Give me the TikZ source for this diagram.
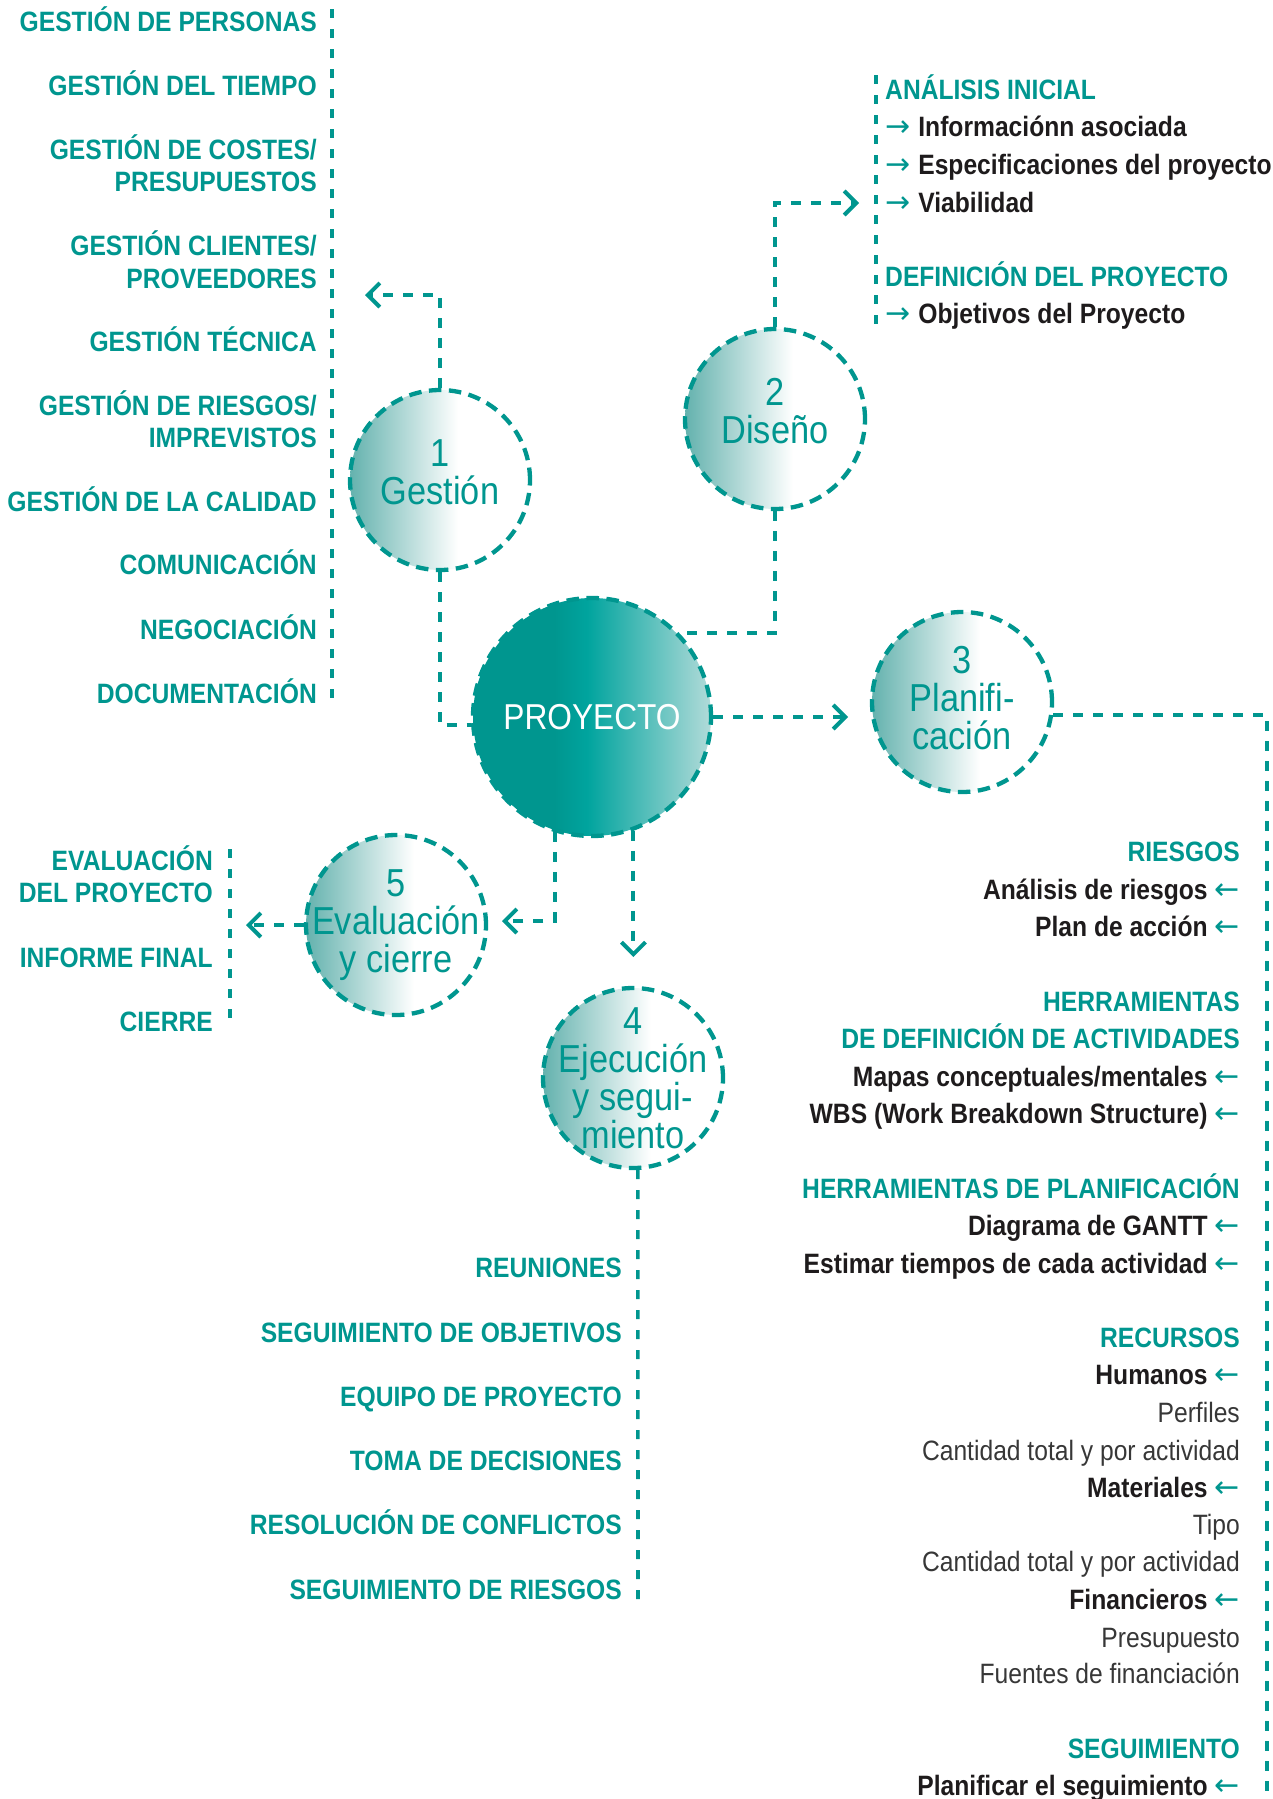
\documentclass[tikz,border=0pt]{standalone}
\usepackage{fontspec}
\setmainfont[FakeStretch=0.88]{Liberation Sans}
\newfontfamily\flechas{DejaVu Sans}
\usetikzlibrary{arrows.meta, positioning}
\definecolor{verde}{RGB}{0,150,143}
\definecolor{verdemedio}{RGB}{100,178,174}
\definecolor{verdevivo}{RGB}{0,164,158}
\definecolor{verdeclaro}{RGB}{178,219,217}
\definecolor{tinta}{RGB}{30,27,28}
\definecolor{gris}{RGB}{55,55,55}
\pgfdeclarehorizontalshading{fasefade}{100bp}{color(0bp)=(verdemedio); color(25bp)=(verdemedio); color(55bp)=(white); color(100bp)=(white)}
\pgfdeclarehorizontalshading{centrofade}{100bp}{color(0bp)=(verde); color(42bp)=(verde); color(49bp)=(verdevivo); color(75bp)=(verdeclaro); color(100bp)=(verdeclaro)}
\newcommand{\izq}{\hspace{7pt}{\flechas\mdseries\color{verde}\fontsize{30}{30}\selectfont ←}}
\newcommand{\der}{{\flechas\mdseries\color{verde}\fontsize{30}{30}\selectfont →}\hspace{8pt}}
\newcommand{\baja}[1]{\rule[-#1]{0pt}{0pt}}
\tikzset{
	fase/.style={circle, minimum size=180pt, inner sep=-60pt, draw=verde, line width=4.3pt,
		dash pattern=on 12.5pt off 7.5pt, shade, shading=fasefade, text=verde, align=center,
		font=\fontsize{39}{38}\selectfont},
	centro/.style={fase, minimum size=238pt, shading=centrofade, text=white,
		font=\fontsize{36}{38}\selectfont},
	enlace/.style={draw=verde, line width=4pt, dash pattern=on 10pt off 10pt},
	punta/.style={-{Straight Barb[length=12pt,width=24pt,sharp]}},
	lista/.style={draw=verde, line width=3.6pt, dash pattern=on 9pt off 11pt},
	texto/.style={inner sep=0pt, text height=20pt, text depth=0pt, font=\fontsize{28}{30}\selectfont},
	titulo/.style={texto, text=verde, font=\fontsize{28}{30}\selectfont\bfseries},
	tarea/.style={texto, text=tinta, font=\fontsize{28}{30}\selectfont\bfseries},
	detalle/.style={texto, text=gris}
}
\begin{document}
\begin{tikzpicture}[x=1pt, y=-1pt]
	\useasboundingbox (0,0) rectangle (1272,1799);

	% fases
	\node[centro] (pro) at (592,717)  {PROYECTO};
	\node[fase]   (ges) at (440,480)  {1\\Gestión\baja{15pt}};
	\node[fase]   (dis) at (775,419)  {2\\Diseño\baja{16pt}};
	\node[fase]   (pla) at (962,702)  {3\\Planifi-\\cación\baja{8pt}};
	\node[fase]   (eva) at (396,925)  {5\\Evaluación\\y cierre};
	\node[fase]   (eje) at (633,1078) {4\\Ejecución\\y segui-\\miento};

	% enlaces
	\coordinate (gesfin)  at (365,295);
	\coordinate (disfin)  at (859,203);
	\coordinate (plafin)  at (848,717);
	\coordinate (evafin)  at (502,921);
	\coordinate (ejefin)  at (633,957);
	\coordinate (cierfin) at (246,925);
	\coordinate (planbaja) at (1267,1799);

	\path[enlace, punta] (ges.north) |- (gesfin);
	\path[enlace]        (ges.south) |- (pro.184);
	\path[enlace]        (dis.south) |- (pro.44);
	\path[enlace, punta] (dis.north) |- (disfin);
	\path[enlace, punta] (pro.east)  -- (plafin);
	\path[enlace]        (pla.-8)    -| (planbaja);
	\path[enlace, punta] (pro.252)   |- (evafin);
	\path[enlace, punta] (pro.290)   -- (pro.290 |- ejefin);
	\path[enlace, punta] (eva.west)  -- (cierfin);

	% listas
	\coordinate (gesarriba) at (332,9);
	\coordinate (gesabajo)  at (332,702);
	\coordinate (disarriba) at (876,75);
	\coordinate (disabajo)  at (876,330);
	\coordinate (evaarriba) at (230,849);
	\coordinate (evaabajo)  at (230,1029);
	\coordinate (ejeabajo)  at (638,1600);

	\path[lista] (gesarriba) -- (gesabajo);
	\path[lista] (disarriba) -- (disabajo);
	\path[lista] (evaarriba) -- (evaabajo);
	\path[lista] (eje.-87)   -- (ejeabajo);

	\foreach \y/\txt [count=\i] in {21/GESTIÓN DE PERSONAS, 85/GESTIÓN DEL TIEMPO,
		149/{GESTIÓN DE COSTES/}, 181/PRESUPUESTOS, 245/{GESTIÓN CLIENTES/}, 278/PROVEEDORES,
		341/GESTIÓN TÉCNICA, 405/{GESTIÓN DE RIESGOS/}, 437/IMPREVISTOS,
		501/GESTIÓN DE LA CALIDAD, 564/COMUNICACIÓN, 629/NEGOCIACIÓN, 693/DOCUMENTACIÓN}
		\node[titulo, anchor=east] (gl\i) at (317,\y) {\txt};

	\foreach \y/\txt [count=\i] in {860/EVALUACIÓN, 892/DEL PROYECTO, 957/INFORME FINAL, 1021/CIERRE}
		\node[titulo, anchor=east] (el\i) at (213,\y) {\txt};

	\foreach \y/\txt [count=\i] in {1267/REUNIONES, 1332/SEGUIMIENTO DE OBJETIVOS,
		1396/EQUIPO DE PROYECTO, 1460/TOMA DE DECISIONES, 1524/RESOLUCIÓN DE CONFLICTOS,
		1589/SEGUIMIENTO DE RIESGOS}
		\node[titulo, anchor=east] (jl\i) at (622,\y) {\txt};

	\foreach \y/\s/\txt [count=\i] in {89/titulo/ANÁLISIS INICIAL, 126/tarea/\der Informaciónn asociada,
		164/tarea/\der Especificaciones del proyecto, 202/tarea/\der Viabilidad,
		276/titulo/DEFINICIÓN DEL PROYECTO, 313/tarea/\der Objetivos del Proyecto}
		\node[\s, anchor=west] (dl\i) at (885,\y) {\txt};

	\foreach \y/\s/\txt [count=\i] in {851/titulo/RIESGOS, 889/tarea/Análisis de riesgos\izq,
		926/tarea/Plan de acción\izq, 1001/titulo/HERRAMIENTAS, 1038/titulo/DE DEFINICIÓN DE ACTIVIDADES,
		1076/tarea/Mapas conceptuales\slash mentales\izq, 1113/tarea/WBS (Work Breakdown Structure)\izq,
		1188/titulo/HERRAMIENTAS DE PLANIFICACIÓN, 1225/tarea/Diagrama de GANTT\izq,
		1263/tarea/Estimar tiempos de cada actividad\izq, 1337/titulo/RECURSOS, 1374/tarea/Humanos\izq,
		1412/detalle/Perfiles, 1450/detalle/Cantidad total y por actividad, 1487/tarea/Materiales\izq,
		1524/detalle/Tipo, 1561/detalle/Cantidad total y por actividad, 1599/tarea/Financieros\izq,
		1637/detalle/Presupuesto, 1673/detalle/Fuentes de financiación,
		1748/titulo/SEGUIMIENTO, 1785/tarea/Planificar el seguimiento\izq}
		\node[\s, anchor=east] (pl\i) at (1240,\y) {\txt};
\end{tikzpicture}
\end{document}
